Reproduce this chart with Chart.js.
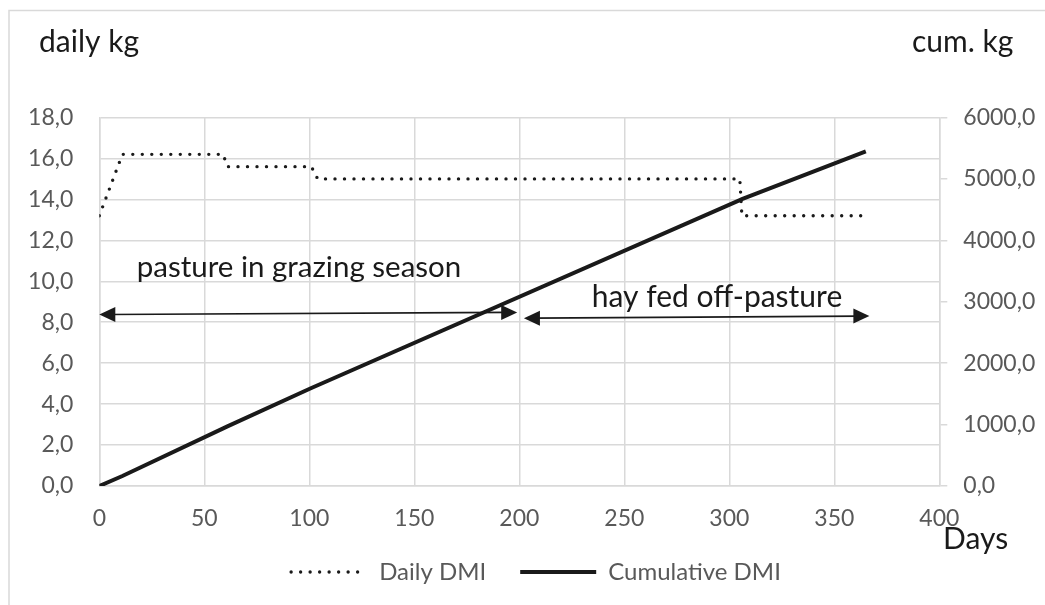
<!DOCTYPE html>
<html>
<head>
<meta charset="utf-8">
<script src="https://cdn.jsdelivr.net/npm/chart.js@4.4.1/dist/chart.umd.min.js"></script>
<style>
  html, body { margin: 0; padding: 0; background: #ffffff; }
  #wrap { width: 1045px; height: 605px; position: relative; }
  canvas { display: block; }
</style>
</head>
<body>
<div id="wrap"><canvas id="c" width="1045" height="605"></canvas></div>
<script>
// ---- data ----
const days = [0, 11, 59, 61, 101, 104, 305, 306, 365];
const dailyDMI = [13.2, 16.2, 16.2, 15.6, 15.6, 15.0, 15.0, 13.2, 13.2];
const cumulativeDMI = [0, 162, 939, 971, 1595, 1641, 4656, 4670, 5449];
const seriesNames = ['Daily DMI', 'Cumulative DMI'];
const xTicks = [0, 50, 100, 150, 200, 250, 300, 350, 400];
const leftTicks = [0, 2, 4, 6, 8, 10, 12, 14, 16, 18];
const rightTicks = [0, 1000, 2000, 3000, 4000, 5000, 6000];
const axisTitles = { left: 'daily kg', right: 'cum. kg', x: 'Days' };
const periodLabels = ['pasture in grazing season', 'hay fed off-pasture'];
const periodFrom = [0, 202.2];
const periodTo = [199, 366.7];
const periodArrowY = [[8.38, 8.48], [8.2, 8.3]];
const periodTextDay = [17.8, 234.5];
const periodTextY = [10.2, 8.75];
const periodTextSize = [29.5, 30];

const FONT = 'Lato, "Open Sans", "DejaVu Sans", sans-serif';
const INK = '#1a1a1a';
const GREY = '#595959';
const GRID = '#d9d9d9';

const fmt = v => v.toFixed(1).replace('.', ',');

const extras = {
  id: 'extras',
  beforeDraw(chart) {
    const ctx = chart.ctx;
    ctx.save();
    ctx.strokeStyle = GRID;
    ctx.lineWidth = 1.5;
    ctx.beginPath();
    ctx.moveTo(9, 605);
    ctx.lineTo(9, 10.5);
    ctx.lineTo(1045, 10.5);
    ctx.stroke();
    ctx.restore();
  },
  afterDatasetsDraw(chart) {
    const ctx = chart.ctx;
    const xs = chart.scales.x, ys = chart.scales.y;
    ctx.save();
    ctx.strokeStyle = INK;
    ctx.fillStyle = INK;
    const head = (tx, ty, dir) => {
      const L = 16, H = 7.5;
      ctx.beginPath();
      ctx.moveTo(tx, ty);
      ctx.lineTo(tx - dir * L, ty - H);
      ctx.lineTo(tx - dir * L, ty + H);
      ctx.closePath();
      ctx.fill();
    };
    for (let i = 0; i < periodLabels.length; i++) {
      const x1 = xs.getPixelForValue(periodFrom[i]);
      const x2 = xs.getPixelForValue(periodTo[i]);
      const y1 = ys.getPixelForValue(periodArrowY[i][0]);
      const y2 = ys.getPixelForValue(periodArrowY[i][1]);
      ctx.lineWidth = 1.6;
      ctx.beginPath();
      ctx.moveTo(x1 + 10, y1);
      ctx.lineTo(x2 - 10, y2);
      ctx.stroke();
      head(x1, y1, -1);
      head(x2, y2, 1);
      ctx.font = periodTextSize[i] + 'px ' + FONT;
      ctx.textAlign = 'left';
      ctx.textBaseline = 'alphabetic';
      ctx.fillText(periodLabels[i], xs.getPixelForValue(periodTextDay[i]), ys.getPixelForValue(periodTextY[i]));
    }
    ctx.font = '30px ' + FONT;
    ctx.fillStyle = INK;
    ctx.textAlign = 'left';
    ctx.textBaseline = 'alphabetic';
    ctx.fillText(axisTitles.left, 39, 52);
    ctx.fillText(axisTitles.right, 912, 52);
    ctx.fillText(axisTitles.x, 943, 549);
    ctx.restore();
  }
};

new Chart(document.getElementById('c'), {
  type: 'line',
  data: {
    datasets: [
      {
        label: seriesNames[0],
        data: days.map((d, i) => ({ x: d, y: dailyDMI[i] })),
        yAxisID: 'y',
        borderColor: INK,
        backgroundColor: INK,
        borderWidth: 3.4,
        borderDash: [0, 9.5],
        borderCapStyle: 'round',
        pointRadius: 0,
        tension: 0,
        fill: false
      },
      {
        label: seriesNames[1],
        data: days.map((d, i) => ({ x: d, y: cumulativeDMI[i] })),
        yAxisID: 'y2',
        borderColor: INK,
        backgroundColor: INK,
        borderWidth: 4,
        borderCapStyle: 'butt',
        pointRadius: 0,
        tension: 0,
        fill: false
      }
    ]
  },
  options: {
    responsive: false,
    animation: false,
    events: [],
    layout: { padding: { left: 27, right: 0, top: 117.5, bottom: 11 } },
    plugins: {
      tooltip: { enabled: false },
      legend: {
        position: 'bottom',
        labels: {
          usePointStyle: true,
          pointStyle: 'line',
          pointStyleWidth: 76,
          boxHeight: 24,
          padding: 34,
          color: GREY,
          font: { family: FONT, size: 24 },
          generateLabels: chart => chart.data.datasets.map((ds, i) => ({
            text: ds.label,
            fillStyle: ds.borderColor,
            strokeStyle: ds.borderColor,
            lineWidth: ds.borderWidth,
            lineDash: ds.borderDash || [],
            lineCap: ds.borderCapStyle,
            pointStyle: 'line',
            fontColor: GREY,
            hidden: false,
            datasetIndex: i
          }))
        }
      }
    },
    scales: {
      x: {
        type: 'linear',
        min: 0, max: 400,
        afterBuildTicks: s => { s.ticks = xTicks.map(v => ({ value: v })); },
        afterFit: s => { s.height = 40; },
        grid: { color: GRID, lineWidth: 1.5, drawTicks: false },
        border: { display: true, color: GRID, width: 1.5 },
        ticks: { color: GREY, padding: 19, font: { family: FONT, size: 23 }, maxRotation: 0 }
      },
      y: {
        position: 'left',
        min: 0, max: 18,
        afterBuildTicks: s => { s.ticks = leftTicks.map(v => ({ value: v })); },
        afterFit: s => { s.width = 72.3; },
        grid: { color: GRID, lineWidth: 1.5, drawTicks: false },
        border: { display: true, color: GRID, width: 1.5 },
        ticks: { color: GREY, padding: 26, font: { family: FONT, size: 23 }, callback: v => fmt(v) }
      },
      y2: {
        position: 'right',
        min: 0, max: 6000,
        afterBuildTicks: s => { s.ticks = rightTicks.map(v => ({ value: v })); },
        afterFit: s => { s.width = 105.7; },
        grid: { color: GRID, lineWidth: 1.5, drawOnChartArea: false, drawTicks: true, tickLength: 8 },
        border: { display: true, color: GRID, width: 1.5 },
        ticks: { color: GREY, padding: 16, font: { family: FONT, size: 23 }, callback: v => fmt(v) }
      }
    }
  },
  plugins: [extras]
});
</script>
</body>
</html>
